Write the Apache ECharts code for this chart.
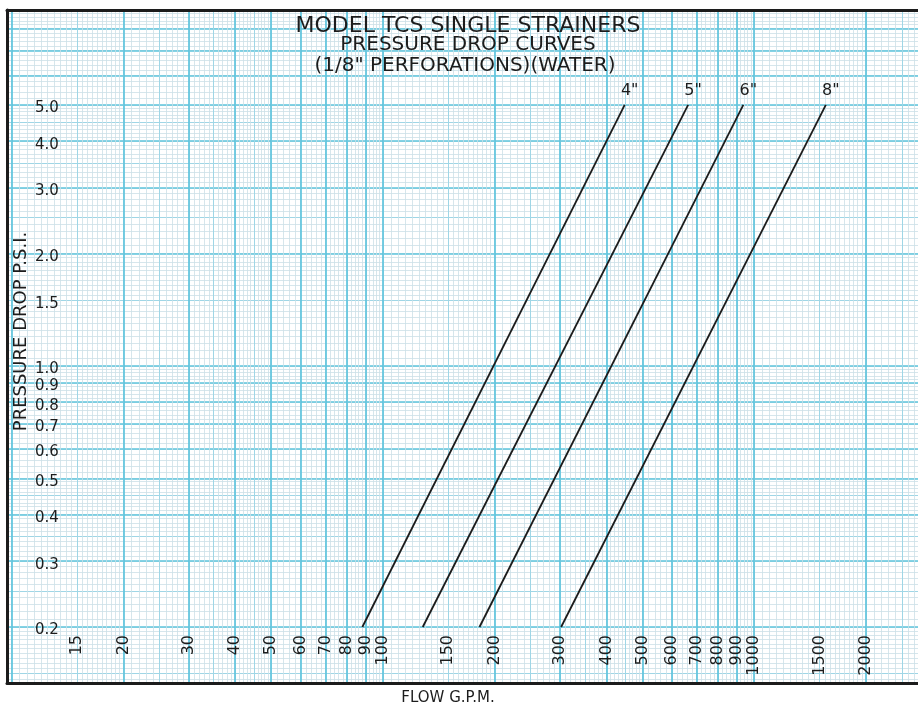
<!DOCTYPE html>
<html><head><meta charset="utf-8">
<script src="https://cdn.jsdelivr.net/npm/echarts@6/dist/echarts.min.js"></script>
<style>html,body{margin:0;padding:0;background:#fff}#c{width:918px;height:706px}</style>
</head><body><div id="c"></div>
<script>
// ---- text ----
const titleLines = ['MODEL TCS SINGLE STRAINERS', 'PRESSURE DROP CURVES', '(1/8" PERFORATIONS)(WATER)'];
const xAxisTitle = 'FLOW G.P.M.';
const yAxisTitle = 'PRESSURE DROP P.S.I.';
// ---- tick labels ----
const xTickLabels = [15, 20, 30, 40, 50, 60, 70, 80, 90, 100, 150, 200, 300, 400, 500, 600, 700, 800, 900, 1000, 1500, 2000];
const yTickLabels = [0.2, 0.3, 0.4, 0.5, 0.6, 0.7, 0.8, 0.9, 1.0, 1.5, 2.0, 3.0, 4.0, 5.0];
// ---- series (flow G.P.M. vs pressure drop P.S.I.) ----
const seriesNames = ['4"', '5"', '6"', '8"'];
const flow4 = [88, 448];
const drop4 = [0.2, 5.0];
const flow5 = [128, 664];
const drop5 = [0.2, 5.0];
const flow6 = [182, 935];
const drop6 = [0.2, 5.0];
const flow8 = [302, 1560];
const drop8 = [0.2, 5.0];
// ---- axis extents ----
const xRange = [9.71, 2815];
const yRange = [0.1416, 8.98];
// ---- log-paper rulings (multipliers within each decade) ----
const majorMult = [1, 2, 3, 4, 5, 6, 7, 8, 9];
const midMult = [1.5, 2.5, 3.5, 4.5];
const xDecades = [1, 10, 100, 1000];
const yDecades = [0.1, 1];

function fineMult() {
  const out = [];
  for (let i = 0; i < 20; i++) out.push(1 + i * 0.05);
  for (let i = 0; i < 30; i++) out.push(2 + i * 0.1);
  for (let i = 0; i < 25; i++) out.push(5 + i * 0.2);
  return out;
}
function rulings(mults, decades) {
  const out = [];
  decades.forEach(d => mults.forEach(m => out.push(+(m * d).toPrecision(6))));
  return out;
}
const xFine = rulings(fineMult(), xDecades), yFine = rulings(fineMult(), yDecades);
const xMid = rulings(midMult, xDecades), yMid = rulings(midMult, yDecades);
const xMajor = rulings(majorMult, xDecades), yMajor = rulings(majorMult, yDecades);

const FONT = 'DejaVu Sans';
const INK = '#1c1c1c';
const frameLine = { show: true, lineStyle: { color: INK, width: 3 } };

function gridAxis(pos, vals, color, width, line) {
  return {
    type: 'log', min: 0, max: 0, position: pos,
    axisLine: line ? frameLine : { show: false },
    axisTick: { show: false, customValues: vals },
    axisLabel: { show: false },
    splitLine: { show: true, lineStyle: { color: color, width: width } }
  };
}
const xAxes = [
  {
    type: 'log', position: 'bottom', offset: -51,
    axisLine: { show: false },
    axisTick: { show: false, customValues: xTickLabels },
    splitLine: { show: false },
    axisLabel: { customValues: xTickLabels, rotate: 90, margin: 3, fontSize: 16, color: INK, fontFamily: FONT, formatter: v => String(v) }
  },
  Object.assign(gridAxis('bottom', xFine, '#cbdfe7', 0.8, true), {
    name: xAxisTitle, nameLocation: 'middle', nameGap: 8, nameMoveOverlap: false,
    nameTextStyle: { fontSize: 15, color: INK, fontFamily: FONT, padding: [0, 32, 0, 0] }
  }),
  gridAxis('top', xMid, '#9fd6e6', 1, true),
  gridAxis('top', xMajor, '#5ec4dd', 1.7, false)
];
const yAxes = [
  {
    type: 'log', position: 'left',
    axisLine: { show: false },
    axisTick: { show: false, customValues: yTickLabels },
    splitLine: { show: false },
    axisLabel: {
      customValues: yTickLabels, inside: true, margin: 28,
      formatter: v => '{t|' + v.toFixed(1) + '}',
      rich: { t: { fontSize: 15, color: INK, fontFamily: FONT, padding: [7, 0, 0, 0] } }
    },
    name: yAxisTitle, nameLocation: 'middle', nameGap: -23, nameRotate: 90, nameMoveOverlap: false,
    nameTextStyle: { fontSize: 18, color: INK, fontFamily: FONT, padding: [0, 0, 0, 30] }
  },
  gridAxis('left', yFine, '#cbdfe7', 0.8, true),
  gridAxis('left', yMid, '#9fd6e6', 1, false),
  gridAxis('left', yMajor, '#5ec4dd', 1.7, false)
];
xAxes.forEach(a => { a.min = xRange[0]; a.max = xRange[1]; });
yAxes.forEach(a => { a.min = yRange[0]; a.max = yRange[1]; });

function makeSeries(name, flows, drops) {
  const n = flows.length;
  return {
    type: 'line', name: name, xAxisIndex: 0, yAxisIndex: 0,
    symbol: 'circle', symbolSize: 0, showSymbol: true, silent: true,
    lineStyle: { color: INK, width: 1.8 }, itemStyle: { color: INK },
    data: flows.map((f, i) => i === n - 1
      ? { value: [f, drops[i]], label: { show: true, position: 'top', distance: 6, offset: [5, 0], formatter: name, fontSize: 16, color: INK, fontFamily: FONT } }
      : [f, drops[i]]),
    z: 5
  };
}

const chart = echarts.init(document.getElementById('c'), null, { renderer: 'canvas' });
chart.setOption({
  animation: false,
  backgroundColor: '#ffffff',
  title: [
    { text: titleLines[0], left: 468, top: 15, textAlign: 'center', padding: 0, textStyle: { fontSize: 22, fontWeight: 'normal', color: INK, fontFamily: FONT } },
    { text: titleLines[1], left: 468, top: 35, textAlign: 'center', padding: 0, textStyle: { fontSize: 20, fontWeight: 'normal', color: INK, fontFamily: FONT } },
    { text: titleLines[2], left: 465, top: 56, textAlign: 'center', padding: 0, textStyle: { fontSize: 20, fontWeight: 'normal', color: INK, fontFamily: FONT } }
  ],
  grid: { left: 7, right: -3, top: 10, bottom: 23, outerBoundsMode: 'none', containLabel: false },
  xAxis: xAxes,
  yAxis: yAxes,
  series: [
    makeSeries(seriesNames[0], flow4, drop4),
    makeSeries(seriesNames[1], flow5, drop5),
    makeSeries(seriesNames[2], flow6, drop6),
    makeSeries(seriesNames[3], flow8, drop8)
  ]
});
</script></body></html>
